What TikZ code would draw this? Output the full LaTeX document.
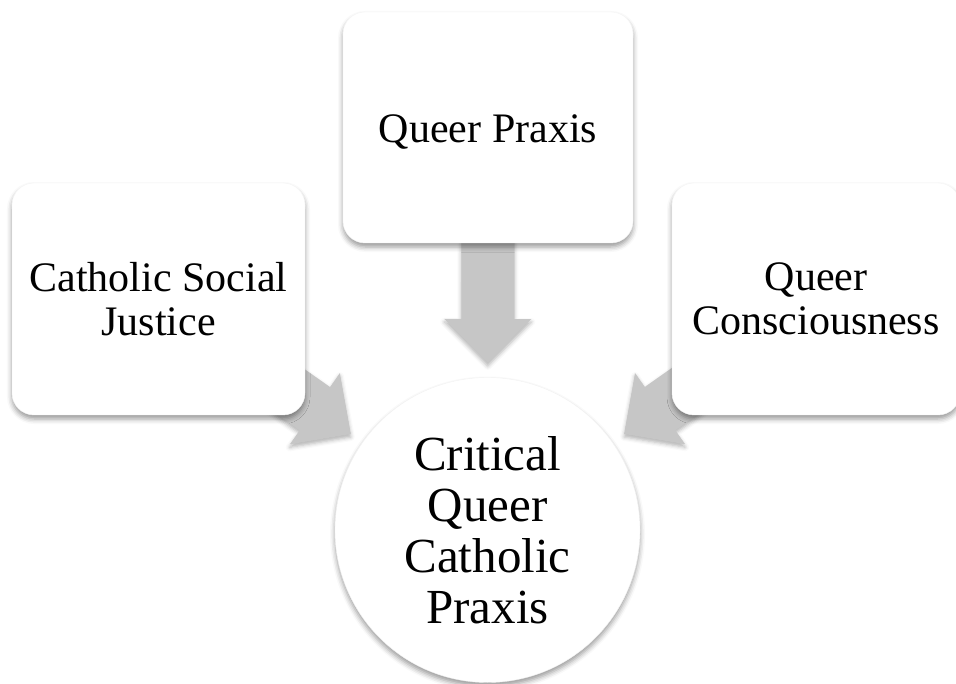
\documentclass[tikz,border=0pt]{standalone}
\usepackage{fontspec}
\setmainfont{Liberation Serif}
\usetikzlibrary{calc,shadows.blur}

\definecolor{arrowgray}{HTML}{C6C6C6}
\pgfdeclarelayer{background}
\pgfsetlayers{background,main}

\tikzset{
  card/.style={fill=white, draw=black!4, rounded corners=22pt, align=center,
    inner sep=0pt, font=\fontsize{42}{44}\selectfont,
    blur shadow={shadow xshift=0pt, shadow yshift=-4pt,
      shadow blur radius=5pt, shadow opacity=40}},
  hub/.style={circle, fill=white, draw=black!5, align=center, inner sep=0pt,
    minimum size=305pt, font=\fontsize{49}{51}\selectfont,
    blur shadow={shadow xshift=0pt, shadow yshift=-4pt,
      shadow blur radius=5pt, shadow opacity=40}},
  flow/.style={fill=arrowgray, draw=none,
    blur shadow={shadow xshift=0pt, shadow yshift=-3pt,
      shadow blur radius=4pt, shadow opacity=30}},
}

% Block arrow from the centre of node #1 to the tip coordinate #2
\newcommand\blockarrow[2]{%
  \coordinate (#2-base) at ($(#2)!44pt!(#1.center)$);
  \path[flow] (#2)
    -- ($(#2-base)!43.5pt!90:(#2)$)
    -- ($(#2-base)!26.5pt!90:(#2)$)
    -- ($(#1.center)!26.5pt!90:(#2)$)
    -- ($(#1.center)!26.5pt!-90:(#2)$)
    -- ($(#2-base)!26.5pt!-90:(#2)$)
    -- ($(#2-base)!43.5pt!-90:(#2)$)
    -- cycle;
}

\begin{document}
\begin{tikzpicture}[x=1pt, y=-1pt]
  \useasboundingbox (0,0) rectangle (956,684);

  % three source cards
  \node[card, minimum width=293pt, minimum height=232pt] (cs) at (158.5,299)
    {Catholic Social\\Justice};
  \node[card, minimum width=290pt, minimum height=231pt] (qp) at (488,127.5)
    {\raisebox{-5pt}[\height][\depth]{Queer Praxis}};
  \node[card, minimum width=288pt, minimum height=232pt] (qc) at (816,299)
    {Queer\\Consciousness};

  % central circle
  \node[hub] (cq) at (487.5,530)
    {Critical\\Queer\\Catholic\\Praxis};

  % arrow tips just outside the circle
  \coordinate (tcs) at ($(cq.center)!167pt!(cs.center)$);
  \coordinate (tqp) at ($(cq.center)!167pt!(qp.center)$);
  \coordinate (tqc) at ($(cq.center)!167pt!(qc.center)$);

  \begin{pgfonlayer}{background}
    \blockarrow{cs}{tcs}
    \blockarrow{qp}{tqp}
    \blockarrow{qc}{tqc}
  \end{pgfonlayer}
\end{tikzpicture}
\end{document}
